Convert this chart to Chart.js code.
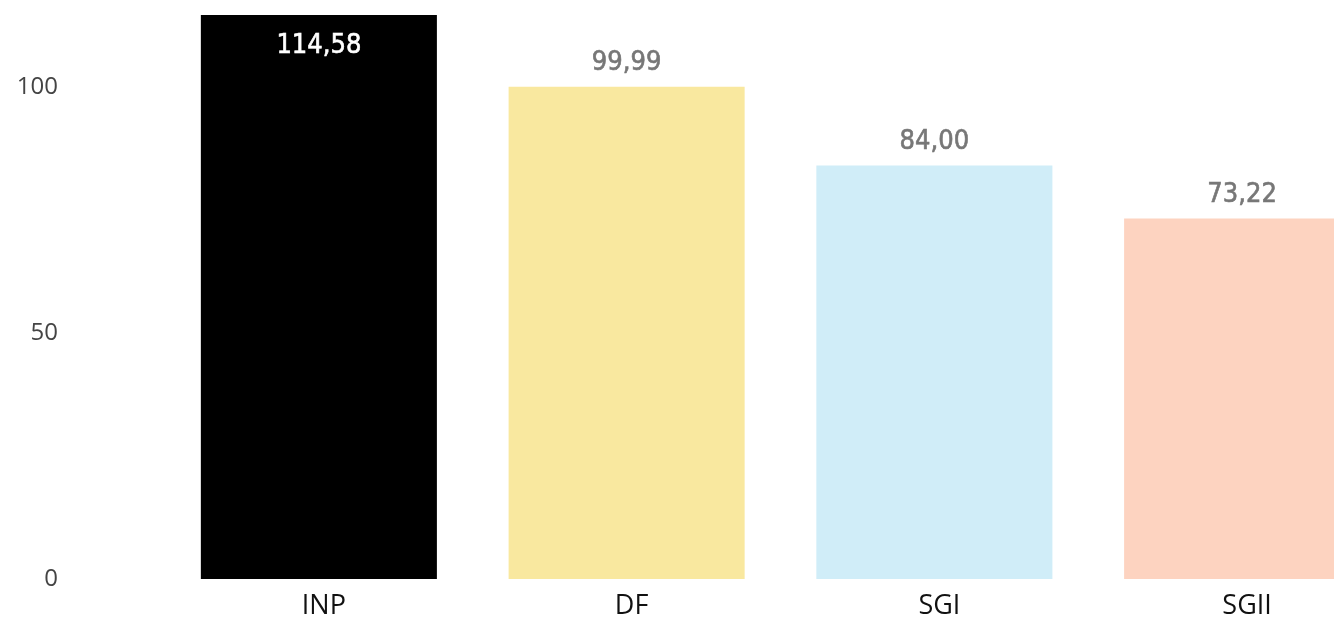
<!DOCTYPE html>
<html>
<head>
<meta charset="utf-8">
<script src="https://cdn.jsdelivr.net/npm/chart.js"></script>
<style>
  html, body { margin: 0; padding: 0; background: #fff; overflow: hidden; }
  canvas { display: block; }
</style>
</head>
<body>
<canvas id="myChart" width="1396" height="620" style="width:1396px;height:620px"></canvas>
<script>
// values
const categories = ['INP', 'DF', 'SGI', 'SGII'];
const values = [114.58, 99.99, 84.00, 73.22];
const barColors = ['#000000', '#F9E89F', '#D0EDF8', '#FDD3C0'];
const yTicks = [0, 50, 100];

const fmt = v => v.toFixed(2).replace('.', ',');

const valueLabels = {
  id: 'valueLabels',
  afterDatasetsDraw(chart) {
    const ctx = chart.ctx;
    const meta = chart.getDatasetMeta(0);
    ctx.save();
    ctx.font = '27px "DejaVu Sans Condensed"';
    ctx.textAlign = 'center';
    ctx.textBaseline = 'middle';
    ctx.lineWidth = 0.6;
    meta.data.forEach((bar, i) => {
      const txt = fmt(values[i]);
      let y;
      if (bar.y - 45 < chart.chartArea.top) {
        ctx.fillStyle = ctx.strokeStyle = '#ffffff';
        y = bar.y + 31;
      } else {
        ctx.fillStyle = ctx.strokeStyle = '#777777';
        y = bar.y - 24;
      }
      ctx.fillText(txt, bar.x, y);
      ctx.strokeText(txt, bar.x, y);
    });
    ctx.restore();
  }
};

const config = {
  type: 'bar',
  data: {
    labels: categories,
    datasets: [{
      data: values,
      backgroundColor: barColors,
      borderWidth: 0,
      barPercentage: 0.767,
      categoryPercentage: 1
    }]
  },
  options: {
    responsive: false,
    animation: false,
    devicePixelRatio: 1,
    layout: { padding: { top: 15, right: 0, left: 0, bottom: 0 } },
    plugins: { legend: { display: false }, tooltip: { enabled: false } },
    scales: {
      x: {
        grid: { display: false, drawTicks: false },
        border: { display: false },
        ticks: { color: '#111', padding: 11, labelOffset: 5, font: { family: 'Open Sans', size: 27 } },
        afterFit: s => { s.height = 41; s.paddingLeft = 0; s.paddingRight = 0; }
      },
      y: {
        min: 0,
        max: 114.58,
        grid: { display: false, drawTicks: false },
        border: { display: false },
        afterBuildTicks: s => { s.ticks = yTicks.map(v => ({ value: v })); },
        ticks: { color: '#444', padding: 107, font: { family: 'Open Sans', size: 24 } },
        afterFit: s => { s.width = 165; s.paddingTop = 0; s.paddingBottom = 0; }
      }
    }
  },
  plugins: [valueLabels]
};

new Chart(document.getElementById('myChart'), config);
</script>
</body>
</html>
